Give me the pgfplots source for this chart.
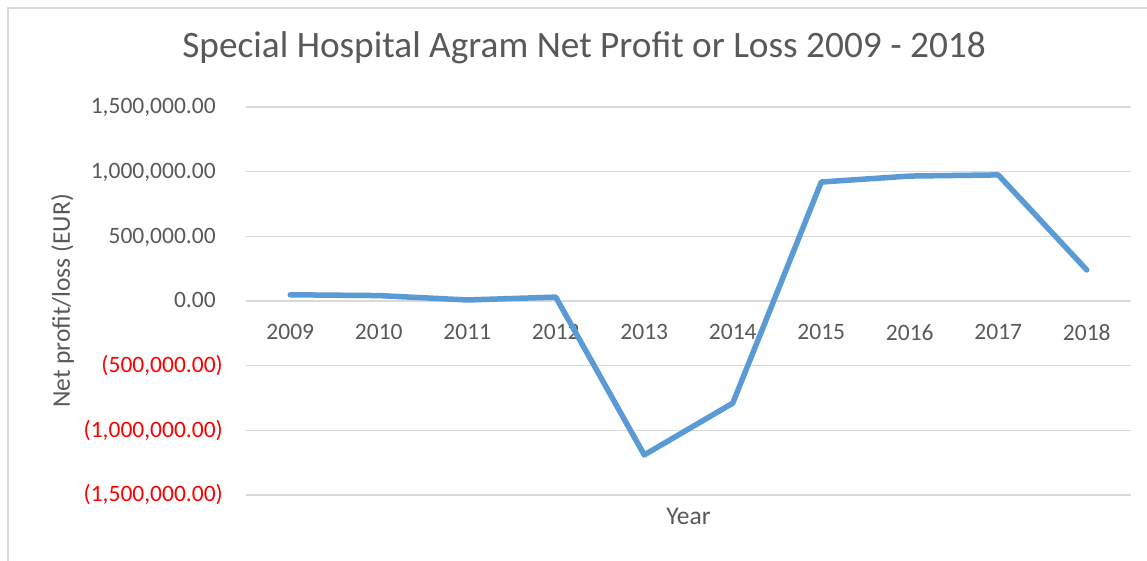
\documentclass[border=0pt]{standalone}
\usepackage{pgfplots}
\pgfplotsset{compat=1.18}
\usepackage{fontspec}
\setmainfont{Carlito}
\definecolor{txt}{HTML}{595959}
\definecolor{gridc}{HTML}{D9D9D9}
\definecolor{linec}{HTML}{5B9BD5}
\definecolor{negc}{HTML}{FF0000}
\begin{document}
\begin{tikzpicture}[x=1pt,y=1pt]
\useasboundingbox (0,0) rectangle (1147,560);
\fill[white] (0,0) rectangle (1147,560);
\draw[gridc, line width=1.5pt] (8,-10) -- (8,552) -- (1160,552);
\begin{axis}[
  at={(246pt,65pt)}, anchor=south west,
  width=885pt, height=388pt, scale only axis,
  xmin=-0.5, xmax=9.5, ymin=-1500000, ymax=1500000,
  axis x line=middle, axis y line=left,
  axis line style={draw=none},
  major tick length=0pt,
  xtick={0,...,9},
  xticklabels={2009,2010,2011,2012,2013,2014,2015,2016,2017,2018},
  ytick={-1500000,-1000000,-500000,0,500000,1000000,1500000},
  yticklabels={{\textcolor{negc}{(1,500,000.00)}},{\textcolor{negc}{(1,000,000.00)}},{\textcolor{negc}{(500,000.00)}},{0.00\phantom{)}},{500,000.00\phantom{)}},{1,000,000.00\phantom{)}},{1,500,000.00\phantom{)}}},
  scaled y ticks=false,
  ymajorgrids,
  grid style={gridc, line width=1.3pt},
  tick label style={font=\fontsize{23.5}{28}\selectfont, text=txt},
  xticklabel style={anchor=north, inner sep=0pt, yshift=-23pt},
  yticklabel style={anchor=east, inner sep=0pt, xshift=-23pt},
  title={Special Hospital Agram Net Profit or Loss 2009 - 2018},
  title style={at={(axis description cs:0.382,1.1134)}, anchor=base, font=\fontsize{37.3}{44}\selectfont, text=txt},
  ylabel={Net profit/loss (EUR)},
  ylabel style={at={(axis description cs:-0.1989,0.5)}, anchor=base, rotate=0, font=\fontsize{25.5}{30}\selectfont, text=txt},
  xlabel={Year},
  xlabel style={at={(axis description cs:0.5,-0.0773)}, anchor=base, font=\fontsize{25.5}{30}\selectfont, text=txt},
  clip=false,
]
\addplot[linec, line width=5.5pt, line cap=round, line join=round] coordinates {
  (0,48000) (1,42000) (2,8000) (3,30000) (4,-1190000)
  (5,-790000) (6,920000) (7,966000) (8,975000) (9,240000)
};
\end{axis}
\end{tikzpicture}
\end{document}
